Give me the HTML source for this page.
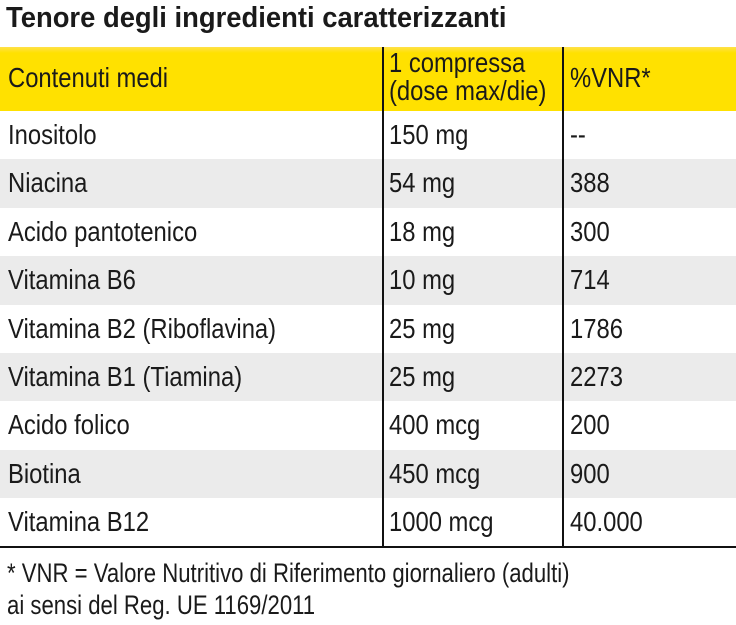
<!DOCTYPE html>
<html><head><meta charset="utf-8"><style>
html,body{margin:0;padding:0;background:#fff;}
body{width:736px;height:625px;position:relative;overflow:hidden;font-family:"Liberation Sans Narrow","Liberation Sans",sans-serif;color:#1a1a1a;}
.title{position:absolute;left:6px;top:2px;font-size:29px;font-weight:bold;white-space:nowrap;transform:scaleX(0.945);transform-origin:left top;}
.hdr{position:absolute;left:0;top:47px;width:736px;height:64px;background:linear-gradient(#ffe14a 0px,#ffe100 6px,#ffe100 100%);}
.row{position:absolute;left:0;width:736px;height:48.4px;}
.row.g{background:#ebebeb;}
.cell{position:absolute;font-size:28px;line-height:30px;white-space:nowrap;transform:scaleX(0.85);transform-origin:left top;}
.vl{position:absolute;top:47px;height:500px;width:1.5px;background:#111;}
.bl{position:absolute;left:0;top:546px;width:736px;height:1.5px;background:#111;}
.foot{position:absolute;left:7px;font-size:27px;white-space:nowrap;transform:scaleX(0.82);transform-origin:left top;}
</style></head><body>
<div class="title">Tenore degli ingredienti caratterizzanti</div>
<div class="hdr">
 <div class="cell" style="left:8px;top:16px">Contenuti medi</div>
 <div class="cell" style="left:389px;top:2px;line-height:28px">1 compressa<br>(dose max/die)</div>
 <div class="cell" style="left:570px;top:16px">%VNR*</div>
</div>
<div id="rows"></div>
<div class="vl" style="left:382px"></div>
<div class="vl" style="left:562px"></div>
<div class="bl"></div>
<div class="foot" style="top:558px">* VNR = Valore Nutritivo di Riferimento giornaliero (adulti)</div>
<div class="foot" style="top:590px">ai sensi del Reg. UE 1169/2011</div>
<script>
const names=["Inositolo","Niacina","Acido pantotenico","Vitamina B6","Vitamina B2 (Riboflavina)","Vitamina B1 (Tiamina)","Acido folico","Biotina","Vitamina B12"];
const doses=["150 mg","54 mg","18 mg","10 mg","25 mg","25 mg","400 mcg","450 mcg","1000 mcg"];
const vnr=["--","388","300","714","1786","2273","200","900","40.000"];
const c=document.getElementById('rows');
names.forEach((n,i)=>{
 const r=document.createElement('div');
 r.className='row'+(i%2?' g':'');
 r.style.top=(111+i*48.4)+'px';
 
 
 [[n,8],[doses[i],389],[vnr[i],570]].forEach(([t,x],j)=>{
  const d=document.createElement('div');
  d.className='cell';d.style.left=x+'px';d.style.top='9px';d.textContent=t;
  
  
  r.appendChild(d);
 });
 c.appendChild(r);
});
</script>
</body></html>
